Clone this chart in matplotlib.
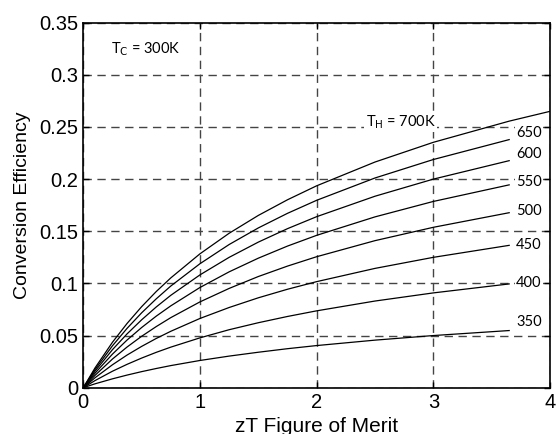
import matplotlib
matplotlib.use('Agg')
import matplotlib.pyplot as plt

# zT sample points and efficiency curves for each hot-side temperature (Tc = 300 K)
zt = [0, 0.1, 0.25, 0.375, 0.5, 0.625, 0.75, 1, 1.25, 1.5, 1.75, 2, 2.5, 3, 3.65]
zt_700 = zt + [4.0]
eff = {
    700: [0, 0.0189, 0.0436, 0.0616, 0.0777, 0.0922, 0.1053, 0.1284, 0.1481, 0.1652, 0.1802,
          0.1936, 0.2164, 0.2353, 0.2556, 0.2650],
    650: [0, 0.0174, 0.0402, 0.0569, 0.0718, 0.0852, 0.0975, 0.1189, 0.1373, 0.1532, 0.1672,
          0.1797, 0.2011, 0.2188, 0.2379],
    600: [0, 0.0158, 0.0365, 0.0516, 0.0651, 0.0774, 0.0886, 0.1082, 0.1250, 0.1396, 0.1525,
          0.1640, 0.1836, 0.2000, 0.2177],
    550: [0, 0.0139, 0.0322, 0.0457, 0.0577, 0.0686, 0.0785, 0.0961, 0.1111, 0.1242, 0.1358,
          0.1461, 0.1638, 0.1786, 0.1945],
    500: [0, 0.0118, 0.0275, 0.0390, 0.0493, 0.0586, 0.0672, 0.0823, 0.0952, 0.1066, 0.1166,
          0.1256, 0.1410, 0.1538, 0.1678],
    450: [0, 0.0095, 0.0220, 0.0313, 0.0396, 0.0472, 0.0541, 0.0664, 0.0769, 0.0862, 0.0944,
          0.1017, 0.1144, 0.1250, 0.1365],
    400: [0, 0.0068, 0.0158, 0.0224, 0.0284, 0.0339, 0.0389, 0.0478, 0.0556, 0.0623, 0.0683,
          0.0737, 0.0831, 0.0909, 0.0995],
    350: [0, 0.0037, 0.0085, 0.0121, 0.0154, 0.0184, 0.0212, 0.0261, 0.0303, 0.0340, 0.0374,
          0.0404, 0.0456, 0.0500, 0.0548],
}
# right-hand curve labels: (text, y position)
curve_labels = [('650', 0.244), ('600', 0.224), ('550', 0.197), ('500', 0.169),
                ('450', 0.137), ('400', 0.100), ('350', 0.063)]

fig = plt.figure(figsize=(5.58, 4.34), dpi=100)
ax = fig.add_axes([0.1493, 0.1067, 0.8364, 0.841])

for th, vals in eff.items():
    xs = zt_700 if th == 700 else zt
    ax.plot(xs, vals, color='black', linewidth=0.9)

ax.set_xlim(0, 4)
ax.set_ylim(0, 0.35)
ax.set_xticks([0, 1, 2, 3, 4])
ax.set_xticklabels(['0', '1', '2', '3', '4'])
ax.set_yticks([0, 0.05, 0.1, 0.15, 0.2, 0.25, 0.3, 0.35])
ax.set_yticklabels(['0', '0.05', '0.1', '0.15', '0.2', '0.25', '0.3', '0.35'])
ax.grid(True, color='#444444', linestyle=(0, (6, 4)), linewidth=1.0)
ax.tick_params(direction='in', top=True, right=True, length=4, width=1,
               labelsize=14.5, pad=3.5)
for lab in ax.get_xticklabels() + ax.get_yticklabels():
    lab.set_family('Liberation Sans')
for sp in ax.spines.values():
    sp.set_linewidth(1.2)

ax.set_xlabel('zT Figure of Merit', fontsize=15, family='Liberation Sans', labelpad=4)
ax.set_ylabel('Conversion Efficiency', fontsize=14, family='Liberation Sans', labelpad=6)

lab_font = dict(fontsize=10.5, family='Lato', va='center', ha='left')
box = dict(facecolor='white', edgecolor='none', pad=1)
for txt, y in curve_labels:
    ax.text(3.71, y, txt, bbox=box, **lab_font)
ax.text(2.42, 0.255, r'T$_\mathrm{H}$ = 700K', bbox=box, **lab_font)
ax.text(0.24, 0.325, r'T$_\mathrm{C}$ = 300K', bbox=box, **lab_font)

plt.savefig('out.png', dpi=100)
